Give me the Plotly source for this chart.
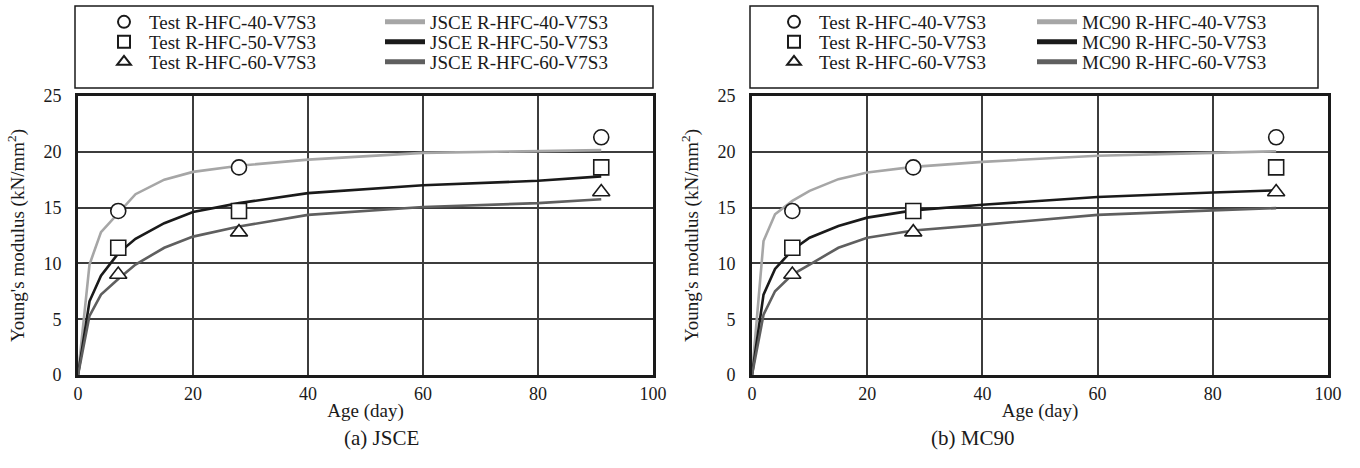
import plotly.graph_objects as go

W, H = 1360, 468

# ---------------- data ----------------
test_age = [7, 28, 91]
test_40 = [14.7, 18.6, 21.3]
test_50 = [11.4, 14.7, 18.6]
test_60 = [9.0, 12.8, 16.4]

model_age = [0, 2, 4, 7, 10, 15, 20, 28, 40, 60, 80, 91]
jsce_40 = [0, 9.9, 12.8, 14.5, 16.2, 17.5, 18.2, 18.75, 19.3, 19.9, 20.05, 20.15]
jsce_50 = [0, 6.6, 8.9, 10.9, 12.2, 13.6, 14.6, 15.4, 16.3, 17.0, 17.4, 17.8]
jsce_60 = [0, 5.3, 7.2, 8.6, 9.9, 11.4, 12.4, 13.3, 14.35, 15.05, 15.4, 15.75]

mc90_40 = [0, 12.0, 14.4, 15.6, 16.5, 17.55, 18.15, 18.65, 19.1, 19.65, 19.9, 20.05]
mc90_50 = [0, 7.2, 9.5, 11.2, 12.3, 13.35, 14.1, 14.75, 15.25, 15.95, 16.35, 16.55]
mc90_60 = [0, 5.4, 7.5, 9.0, 9.9, 11.4, 12.3, 12.95, 13.45, 14.35, 14.75, 14.95]

x_ticks = [0, 20, 40, 60, 80, 100]
y_ticks = [0, 5, 10, 15, 20, 25]

test_names = ["Test R-HFC-40-V7S3", "Test R-HFC-50-V7S3", "Test R-HFC-60-V7S3"]
jsce_names = ["JSCE R-HFC-40-V7S3", "JSCE R-HFC-50-V7S3", "JSCE R-HFC-60-V7S3"]
mc90_names = ["MC90 R-HFC-40-V7S3", "MC90 R-HFC-50-V7S3", "MC90 R-HFC-60-V7S3"]
captions = ["(a) JSCE", "(b) MC90"]
x_title = "Age (day)"
y_title = "Young's modulus (kN/mm<sup>2</sup>)"

# ---------------- style ----------------
FONT = "Liberation Serif"
INK = "#1a1a1a"
line_colors = ["#a6a6a6", "#1a1a1a", "#5f5f5f"]
symbols = ["circle", "square", "triangle-up"]


def px(x):
    return x / W


def py(y):
    return 1 - y / H


fig = go.Figure()
tests = [test_40, test_50, test_60]

# panel layout in pixels
x_dom = [[78, 653], [752, 1328]]
plot_top, plot_bot = 96, 375
row_y = [22, 42, 62]
leg_test_x = [99, 769]
leg_model_x = [380, 1032]
frames = [(75, 653), (750, 1318)]

panels = [
    dict(xa="x", ya="y", models=[jsce_40, jsce_50, jsce_60], names=jsce_names),
    dict(xa="x2", ya="y2", models=[mc90_40, mc90_50, mc90_60], names=mc90_names),
]

layout = dict(
    width=W, height=H,
    margin=dict(l=0, r=0, t=0, b=0, autoexpand=False),
    paper_bgcolor="white", plot_bgcolor="white",
    font=dict(family=FONT, size=17, color=INK),
    showlegend=True,
)

leg_common = dict(
    font=dict(family=FONT, size=19, color=INK),
    bgcolor="rgba(0,0,0,0)", borderwidth=0, orientation="v",
    xanchor="left", yanchor="middle", itemwidth=40, tracegroupgap=0,
    itemsizing="constant",
)

leg_n = 0
for k, p in enumerate(panels):
    for i in range(3):
        leg_n += 1
        lname = "legend" if leg_n == 1 else f"legend{leg_n}"
        layout[lname] = dict(leg_common, x=px(leg_model_x[k]), y=py(row_y[i]))
        fig.add_trace(go.Scatter(
            x=model_age, y=p["models"][i], mode="lines", name=p["names"][i],
            line=dict(color=line_colors[i], width=2.6),
            xaxis=p["xa"], yaxis=p["ya"], legend=lname))
    for i in range(3):
        leg_n += 1
        lname = f"legend{leg_n}"
        layout[lname] = dict(leg_common, x=px(leg_test_x[k]), y=py(row_y[i]))
        fig.add_trace(go.Scatter(
            x=test_age, y=tests[i], mode="markers", name=test_names[i],
            marker=dict(symbol=symbols[i], size=15, color="white",
                        line=dict(color=INK, width=1.6)),
            xaxis=p["xa"], yaxis=p["ya"], legend=lname))

axis_common = dict(
    showline=True, linecolor=INK, linewidth=3, mirror=True,
    showgrid=True, gridcolor="#3c3c3c", gridwidth=1.5,
    zeroline=False, ticks="", tickfont=dict(family=FONT, size=18, color=INK),
    automargin=False,
)

for k, (a, b) in enumerate(x_dom):
    sx = "" if k == 0 else "2"
    layout["xaxis" + sx] = dict(
        axis_common, domain=[px(a), px(b)], range=[0, 100], tickvals=x_ticks,
        anchor="y" + sx, ticklabelstandoff=0,
        title=dict(text=x_title, font=dict(family=FONT, size=19), standoff=2))
    layout["yaxis" + sx] = dict(
        axis_common, domain=[py(plot_bot), py(plot_top)], range=[0, 25],
        tickvals=y_ticks, anchor="x" + sx, ticklabelstandoff=10,
        title=dict(text=y_title, font=dict(family=FONT, size=19), standoff=14))

fig.update_layout(**layout)

# legend frames
for (a, b) in frames:
    fig.add_shape(type="rect", xref="paper", yref="paper",
                  x0=px(a), x1=px(b), y0=py(88), y1=py(6),
                  line=dict(color=INK, width=1.5), fillcolor="rgba(0,0,0,0)")

# captions
for k, (a, b) in enumerate(x_dom):
    fig.add_annotation(text=captions[k], xref="paper", yref="paper",
                       x=px((a + b) / 2 - 24), y=py(438), yanchor="middle",
                       showarrow=False,
                       font=dict(family=FONT, size=21, color=INK))

fig.write_html("out.html")
